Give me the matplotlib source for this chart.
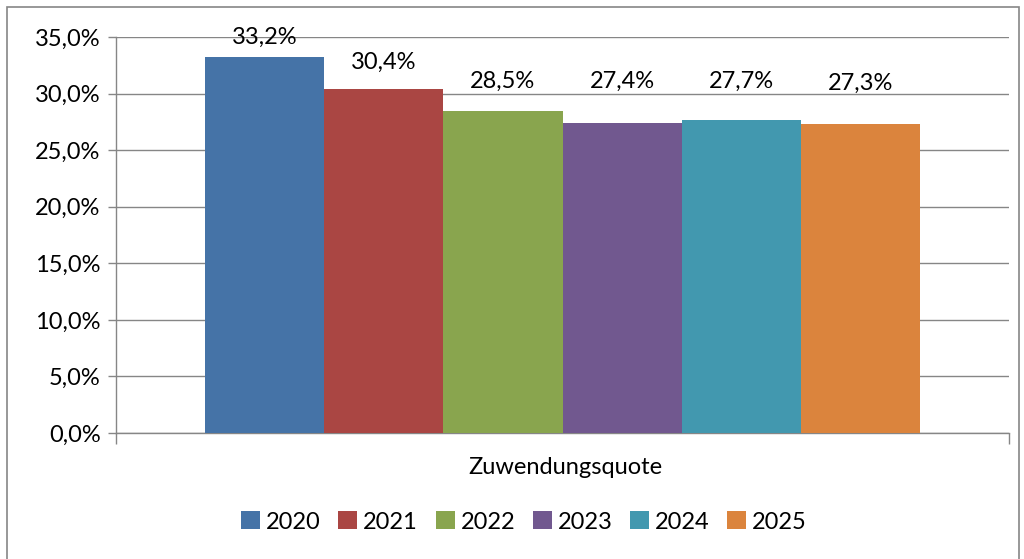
import matplotlib
matplotlib.use("Agg")
import matplotlib.pyplot as plt
from matplotlib.patches import Rectangle, Patch
from matplotlib.ticker import FuncFormatter

years = ["2020", "2021", "2022", "2023", "2024", "2025"]
values = [33.2, 30.4, 28.5, 27.4, 27.7, 27.3]
colors = ["#4573A7", "#AA4643", "#89A54E", "#71588F", "#4298AF", "#DB843D"]
category = "Zuwendungsquote"

# label anchor heights (layout, in axis data units) as placed in the original
label_y = [35.0, 32.8, 31.1, 31.1, 31.1, 30.9]

plt.rcParams['font.family'] = ['Lato', 'DejaVu Sans']
FS = 17

W, H = 1024, 559
fig = plt.figure(figsize=(W / 100, H / 100), dpi=100)
ax = fig.add_axes([116 / W, 1 - 433 / H, (1009 - 116) / W, (433 - 37) / H])

n = len(values)
bw = 0.8 / n
grid_c = "#868686"
for i, (y, v, c, ly) in enumerate(zip(years, values, colors, label_y)):
    x = -0.4 + bw * (i + 0.5)
    ax.bar(x, v, width=bw, color=c, label=y, zorder=3)
    ax.text(x, ly, f"{v:.1f}%".replace(".", ","), ha="center", va="center",
            fontsize=FS, color="black", zorder=4, clip_on=False)

ax.set_xlim(-0.5, 0.5)
ax.set_ylim(0, 35)
ax.set_yticks([0, 5, 10, 15, 20, 25, 30, 35])
ax.yaxis.set_major_formatter(FuncFormatter(lambda v, p: f"{v:.1f}%".replace(".", ",")))
ax.yaxis.grid(True, color=grid_c, linewidth=1.0, zorder=0)
ax.set_axisbelow(True)
ax.tick_params(axis="y", length=6, color=grid_c, labelsize=FS, pad=5, width=1)
ax.set_xticks([-0.5, 0.5])
ax.set_xticklabels(["", ""])
ax.tick_params(axis="x", length=8, color=grid_c, width=1)
for s in ["top", "right"]:
    ax.spines[s].set_visible(False)
for s in ["left", "bottom"]:
    ax.spines[s].set_color(grid_c)
    ax.spines[s].set_linewidth(1.0)

fig.text(565 / W, 1 - 467 / H, category, ha="center", va="center", fontsize=FS)

handles = [Patch(facecolor=c, edgecolor="none") for c in colors]
fig.legend(handles, years, loc="center", bbox_to_anchor=(524 / W, 1 - 522 / H),
           ncol=n, frameon=False, fontsize=FS, handlelength=0.8, handleheight=0.8,
           handletextpad=0.25, columnspacing=0.75)

fig.add_artist(Rectangle((7 / W, -0.05), (1019 - 7) / W, 1 - 7 / H + 0.05,
                         transform=fig.transFigure, fill=False,
                         edgecolor=grid_c, linewidth=1.2))

fig.savefig("out.png", dpi=100)
